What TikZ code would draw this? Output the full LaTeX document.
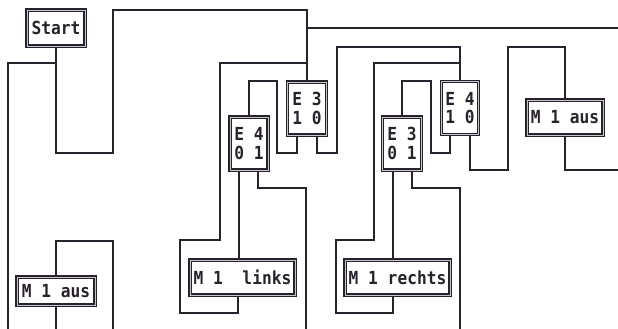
\documentclass[tikz,border=0pt]{standalone}
\usepackage{fontspec}
\newfontfamily\dmono[FakeStretch=0.9]{DejaVu Sans Mono}
\definecolor{ink}{RGB}{40,34,44}
\definecolor{gap}{RGB}{200,196,202}
\tikzset{
  wire/.style={draw=ink, line width=1.2pt},
  blk/.style={draw=ink, line width=1.5pt, double=gap, double distance=0.9pt,
    fill=white, inner sep=0pt, align=center,
    font=\dmono\bfseries\fontsize{18}{18.5}\selectfont, text=ink},
}
\begin{document}
\begin{tikzpicture}[x=1pt,y=-1pt]
\useasboundingbox (0,0) rectangle (618,329);
% nodes
\node[blk, minimum width=58pt, minimum height=36pt] (start) at (56,28) {Start};
\node[blk, minimum width=39pt, minimum height=53pt] (e3a) at (307,108.5) {E~3\\1~0};
\node[blk, minimum width=38pt, minimum height=53pt] (e4a) at (249,143.5) {E~4\\0~1};
\node[blk, minimum width=39pt, minimum height=53pt] (e3b) at (402,143.5) {E~3\\0~1};
\node[blk, minimum width=37pt, minimum height=53pt] (e4b) at (460,108) {E~4\\1~0};
\node[blk, minimum width=76pt, minimum height=35pt] (m1ausR) at (565,117.5) {M~1~aus};
\node[blk, minimum width=105pt, minimum height=35pt] (m1links) at (242.5,277.5) {M~1~~links};
\node[blk, minimum width=105pt, minimum height=35pt] (m1rechts) at (397.5,277.5) {M~1~rechts};
\node[blk, minimum width=78pt, minimum height=28pt] (m1ausL) at (56,291) {M~1~aus};
% free ends
\coordinate (offL) at (8,329);
\coordinate (offR1) at (618,28);
\coordinate (offR2) at (618,170);
% connectors
\draw[wire] (start.south) |- (113,153) -- (113,10) -| (e3a.north);
\draw[wire] (start.south |- 0,63) -| (offL);
\draw[wire] (e3a.north |- 0,28) -- (offR1);
\draw[wire] (e3a.south -| 297,0) |- (277,153) |- (e4a.north |- 0,81) -- (e4a.north);
\draw[wire] (e3a.south -| 317,0) |- (337,153) |- (e4b.north |- 0,47) -- (e4b.north);
\draw[wire] (e3a.north |- 0,63) -| (220,240) -| (180,313) -| (m1links.south -| 238,0);
\draw[wire] (e4a.south -| 239,0) -- (m1links.north -| 239,0);
\draw[wire] (e4a.south -| 258,0) |- (306,188) -- (306,329);
\draw[wire] (e4b.south -| 450,0) |- (431,153) |- (e3b.north |- 0,81) -- (e3b.north);
\draw[wire] (e4b.south -| 470,0) |- (508,170) |- (m1ausR.north |- 0,47) -- (m1ausR.north);
\draw[wire] (m1ausR.south) |- (offR2);
\draw[wire] (e4b.north |- 0,63) -| (374,240) -| (336,313) -| (m1rechts.south -| 393,0);
\draw[wire] (e3b.south -| 393,0) -- (m1rechts.north -| 393,0);
\draw[wire] (e3b.south -| 412,0) |- (460,188) -- (460,329);
\draw[wire] (m1ausL.north) |- (113,241) -- (113,329);
\draw[wire] (m1ausL.south) -- (m1ausL.south |- 0,329);
\end{tikzpicture}
\end{document}
